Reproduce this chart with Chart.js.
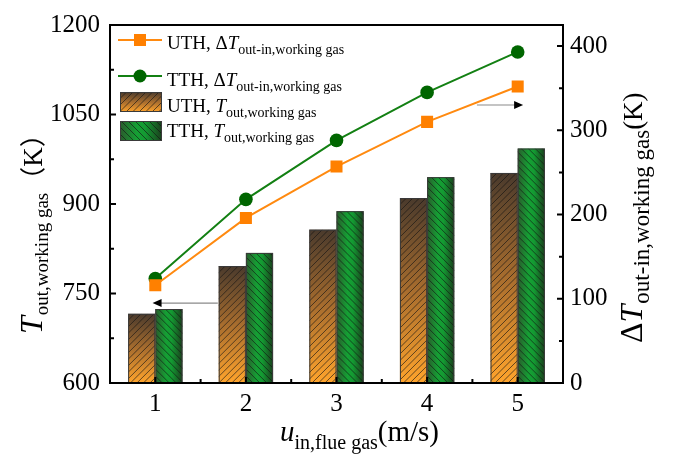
<!DOCTYPE html>
<html><head><meta charset="utf-8">
<script src="https://cdn.jsdelivr.net/npm/chart.js@4.4.0/dist/chart.umd.min.js"></script>
<style>html,body{margin:0;padding:0;background:#fff;}#wrap{width:673px;height:457px;}</style>
</head><body><div id="wrap"><canvas id="c" width="673" height="457"></canvas></div>
<script>
// ---- data ----
const categories = ['1', '2', '3', '4', '5'];
const uthDeltaT = [116, 196, 257, 310, 352];
const tthDeltaT = [124, 218, 288, 345, 393];
const uthTout = [716, 796, 857, 910, 952];
const tthTout = [724, 818, 888, 945, 993];
const leftTicks = [600, 750, 900, 1050, 1200];
const leftMinor = [675, 825, 975, 1125];
const rightTicks = [0, 100, 200, 300, 400];
const rightMinor = [50, 150, 250, 350];
// annotation arrows in data space: [categoryIndex, value]
const arrowLeft = { from: [0.69, 734], to: [-0.03, 734], axis: 'y' };
const arrowRight = { from: [3.55, 330], to: [4.06, 330], axis: 'y1' };

const SERIF = '"Liberation Serif", "Times New Roman", "Noto Sans CJK SC", serif';
const CJK = '"Noto Sans CJK SC", "Liberation Serif", serif';
const F = (size, italic) => (italic ? 'italic ' : '') + size + 'px ' + SERIF;
const FC = size => size + 'px ' + CJK;

function drawRich(ctx, x, y, segs) {
  let cx = x;
  for (const s of segs) {
    ctx.font = s.font;
    ctx.fillText(s.t, cx, y + (s.dy || 0));
    cx += ctx.measureText(s.t).width + (s.gap || 0);
  }
  return cx;
}

function fillUTH(ctx, l, t, w, h) {
  const g = ctx.createLinearGradient(0, t, 0, t + h);
  g.addColorStop(0, '#4a3a2c');
  g.addColorStop(0.5, '#a86d2e');
  g.addColorStop(1, '#ffa42c');
  ctx.fillStyle = g;
  ctx.fillRect(l, t, w, h);
}
function fillTTH(ctx, l, t, w, h) {
  const g = ctx.createLinearGradient(l, 0, l + w, 0);
  g.addColorStop(0, '#2a5a2c');
  g.addColorStop(0.4, '#15a034');
  g.addColorStop(0.6, '#139a32');
  g.addColorStop(1, '#1a3e1c');
  ctx.fillStyle = g;
  ctx.fillRect(l, t, w, h);
}
function hatch(ctx, l, t, w, h, dir, step) {
  ctx.save();
  ctx.beginPath(); ctx.rect(l, t, w, h); ctx.clip();
  ctx.strokeStyle = 'rgba(20,20,20,0.8)';
  ctx.lineWidth = 0.8;
  ctx.beginPath();
  for (let k = -h; k < w + h; k += step) {
    if (dir > 0) { ctx.moveTo(l + k, t + h); ctx.lineTo(l + k + h, t); }
    else { ctx.moveTo(l + k, t); ctx.lineTo(l + k + h, t + h); }
  }
  ctx.stroke();
  ctx.restore();
}
function drawBarStyled(ctx, kind, l, t, w, h) {
  if (kind === 'UTH') { fillUTH(ctx, l, t, w, h); hatch(ctx, l, t, w, h, 1, 6.5); }
  else { fillTTH(ctx, l, t, w, h); hatch(ctx, l, t, w, h, -1, 7); }
  ctx.strokeStyle = '#3a3a3a';
  ctx.lineWidth = 1;
  ctx.strokeRect(l + 0.5, t + 0.5, w - 1, h - 1);
}

function drawArrow(ctx, chart, a) {
  const xs = chart.scales.x, ys = chart.scales[a.axis];
  const x1 = xs.getPixelForValue(a.from[0]), y1 = ys.getPixelForValue(a.from[1]);
  const x2 = xs.getPixelForValue(a.to[0]), y2 = ys.getPixelForValue(a.to[1]);
  const dir = Math.sign(x2 - x1);
  ctx.save();
  ctx.strokeStyle = '#8a8a8a'; ctx.lineWidth = 1.2;
  ctx.beginPath(); ctx.moveTo(x1, y1); ctx.lineTo(x2 - dir * 6, y2); ctx.stroke();
  ctx.fillStyle = '#000';
  ctx.beginPath();
  ctx.moveTo(x2, y2); ctx.lineTo(x2 - dir * 9, y2 - 4); ctx.lineTo(x2 - dir * 9, y2 + 4); ctx.closePath();
  ctx.fill();
  ctx.restore();
}

const decor = {
  id: 'decor',
  beforeDatasetsDraw(chart) {
    const ctx = chart.ctx;
    drawArrow(ctx, chart, arrowLeft);
    drawArrow(ctx, chart, arrowRight);
  },
  afterDatasetDraw(chart, args) {
    const ds = chart.data.datasets[args.index];
    if (ds.type !== 'bar') return;
    const ctx = chart.ctx, a = chart.chartArea;
    ctx.save();
    for (const el of args.meta.data) {
      const p = el.getProps(['x', 'y', 'base', 'width'], true);
      const bottom = Math.min(Math.max(p.base, p.y), a.bottom);
      const t = Math.min(p.y, p.base), h = bottom - t;
      drawBarStyled(ctx, ds.kind, p.x - p.width / 2, t, p.width, h);
    }
    ctx.restore();
  },
  afterDraw(chart) {
    const ctx = chart.ctx, a = chart.chartArea;
    const xs = chart.scales.x, ys = chart.scales.y, y1 = chart.scales.y1;
    ctx.save();
    // frame
    ctx.strokeStyle = '#000'; ctx.lineWidth = 2;
    ctx.strokeRect(a.left, a.top, a.right - a.left, a.bottom - a.top);
    // ticks (inward)
    ctx.beginPath();
    leftTicks.forEach(v => { const py = ys.getPixelForValue(v); ctx.moveTo(a.left, py); ctx.lineTo(a.left + 6, py); });
    leftMinor.forEach(v => { const py = ys.getPixelForValue(v); ctx.moveTo(a.left, py); ctx.lineTo(a.left + 4, py); });
    rightTicks.forEach(v => { const py = y1.getPixelForValue(v); ctx.moveTo(a.right, py); ctx.lineTo(a.right - 6, py); });
    rightMinor.forEach(v => { const py = y1.getPixelForValue(v); ctx.moveTo(a.right, py); ctx.lineTo(a.right - 4, py); });
    categories.forEach((c, i) => {
      const px = xs.getPixelForValue(i); ctx.moveTo(px, a.bottom); ctx.lineTo(px, a.bottom - 6);
      if (i > 0) { const pm = xs.getPixelForValue(i - 0.5); ctx.moveTo(pm, a.bottom); ctx.lineTo(pm, a.bottom - 4); }
    });
    ctx.stroke();

    // legend
    ctx.fillStyle = '#000'; ctx.textAlign = 'left'; ctx.textBaseline = 'alphabetic';
    const lx = a.left + 8, tx = a.left + 57;
    const dsU = chart.data.datasets[0], dsT = chart.data.datasets[1];
    let ry = a.top + 15;
    ctx.strokeStyle = dsU.borderColor; ctx.lineWidth = 2;
    ctx.beginPath(); ctx.moveTo(lx, ry); ctx.lineTo(lx + 44, ry); ctx.stroke();
    ctx.fillStyle = dsU.backgroundColor; ctx.fillRect(lx + 22 - 6, ry - 6, 12, 12);
    ctx.fillStyle = '#000';
    drawRich(ctx, tx, a.top + 24, [{ t: 'UTH, Δ', font: F(19) }, { t: 'T', font: F(19, true) }, { t: 'out-in,working gas', font: F(14), dy: 5 }]);
    ry = a.top + 51;
    ctx.strokeStyle = dsT.borderColor;
    ctx.beginPath(); ctx.moveTo(lx, ry); ctx.lineTo(lx + 44, ry); ctx.stroke();
    ctx.fillStyle = dsT.backgroundColor; ctx.beginPath(); ctx.arc(lx + 22, ry, 6.5, 0, Math.PI * 2); ctx.fill();
    ctx.fillStyle = '#000';
    drawRich(ctx, tx, a.top + 61, [{ t: 'TTH, Δ', font: F(19) }, { t: 'T', font: F(19, true) }, { t: 'out-in,working gas', font: F(14), dy: 5 }]);
    drawBarStyled(ctx, 'UTH', lx + 2, a.top + 67, 42, 20);
    ctx.fillStyle = '#000';
    drawRich(ctx, tx, a.top + 87, [{ t: 'UTH, ', font: F(19) }, { t: 'T', font: F(19, true) }, { t: 'out,working gas', font: F(14), dy: 5 }]);
    drawBarStyled(ctx, 'TTH', lx + 2, a.top + 96, 42, 20);
    ctx.fillStyle = '#000';
    drawRich(ctx, tx, a.top + 112, [{ t: 'TTH, ', font: F(19) }, { t: 'T', font: F(19, true) }, { t: 'out,working gas', font: F(14), dy: 5 }]);

    // x title
    drawRich(ctx, 280, 441, [{ t: 'u', font: F(29, true) }, { t: 'in,flue gas', font: F(20), dy: 8 }, { t: '(m/s)', font: F(29) }]);

    // left title (rotated)
    ctx.save();
    ctx.translate(42, 334); ctx.rotate(-Math.PI / 2);
    drawRich(ctx, 0, 0, [{ t: 'T', font: F(32, true), gap: 1 }, { t: 'out,working gas', font: F(19), dy: 6 }, { t: '（', font: FC(26) }, { t: 'K', font: F(27) }, { t: '）', font: FC(26) }]);
    ctx.restore();

    // right title (rotated)
    ctx.save();
    ctx.translate(642, 343); ctx.rotate(-Math.PI / 2);
    drawRich(ctx, 0, 0, [{ t: 'Δ', font: F(32) }, { t: 'T', font: F(32, true), gap: 1 }, { t: 'out-in,working gas', font: F(23), dy: 7 }, { t: '(K)', font: F(27) }]);
    ctx.restore();

    ctx.restore();
  }
};

const tickFont = { family: SERIF, size: 25 };
const plain = v => String(v);
new Chart(document.getElementById('c'), {
  data: {
    labels: categories,
    datasets: [
      { type: 'line', label: 'UTH ΔT', data: uthDeltaT, yAxisID: 'y1', borderColor: '#ff8a10', backgroundColor: '#ff8000',
        borderWidth: 2, pointStyle: 'rect', pointRadius: 8.5, pointBorderWidth: 0, order: 0 },
      { type: 'line', label: 'TTH ΔT', data: tthDeltaT, yAxisID: 'y1', borderColor: '#138013', backgroundColor: '#006600',
        borderWidth: 2, pointStyle: 'circle', pointRadius: 6.8, pointBorderWidth: 0, order: 0 },
      { type: 'bar', kind: 'UTH', label: 'UTH Tout', data: uthTout, yAxisID: 'y', base: leftTicks[0], backgroundColor: 'rgba(0,0,0,0)',
        borderWidth: 0, categoryPercentage: 0.6, barPercentage: 1, order: 1 },
      { type: 'bar', kind: 'TTH', label: 'TTH Tout', data: tthTout, yAxisID: 'y', base: leftTicks[0], backgroundColor: 'rgba(0,0,0,0)',
        borderWidth: 0, categoryPercentage: 0.6, barPercentage: 1, order: 1 }
    ]
  },
  options: {
    responsive: false, animation: false,
    layout: { padding: { top: 21, bottom: 0, left: 0, right: 0 } },
    plugins: { legend: { display: false }, tooltip: { enabled: false } },
    scales: {
      x: { type: 'category', offset: true, grid: { display: false, drawTicks: false }, border: { display: false },
        ticks: { font: tickFont, color: '#000', padding: 6 }, afterFit(s) { s.height = 74; } },
      y: { type: 'linear', position: 'left', min: 600, max: 1200,
        afterBuildTicks(s) { s.ticks = leftTicks.map(v => ({ value: v })); },
        grid: { display: false, drawTicks: false }, border: { display: false },
        ticks: { font: tickFont, color: '#000', padding: 10, callback: plain }, afterFit(s) { s.width = 110; } },
      y1: { type: 'linear', position: 'right', min: 0, max: 425,
        afterBuildTicks(s) { s.ticks = rightTicks.map(v => ({ value: v })); },
        grid: { display: false, drawTicks: false }, border: { display: false },
        ticks: { font: tickFont, color: '#000', padding: 7, callback: plain }, afterFit(s) { s.width = 110; } }
    }
  },
  plugins: [decor]
});
</script></body></html>
